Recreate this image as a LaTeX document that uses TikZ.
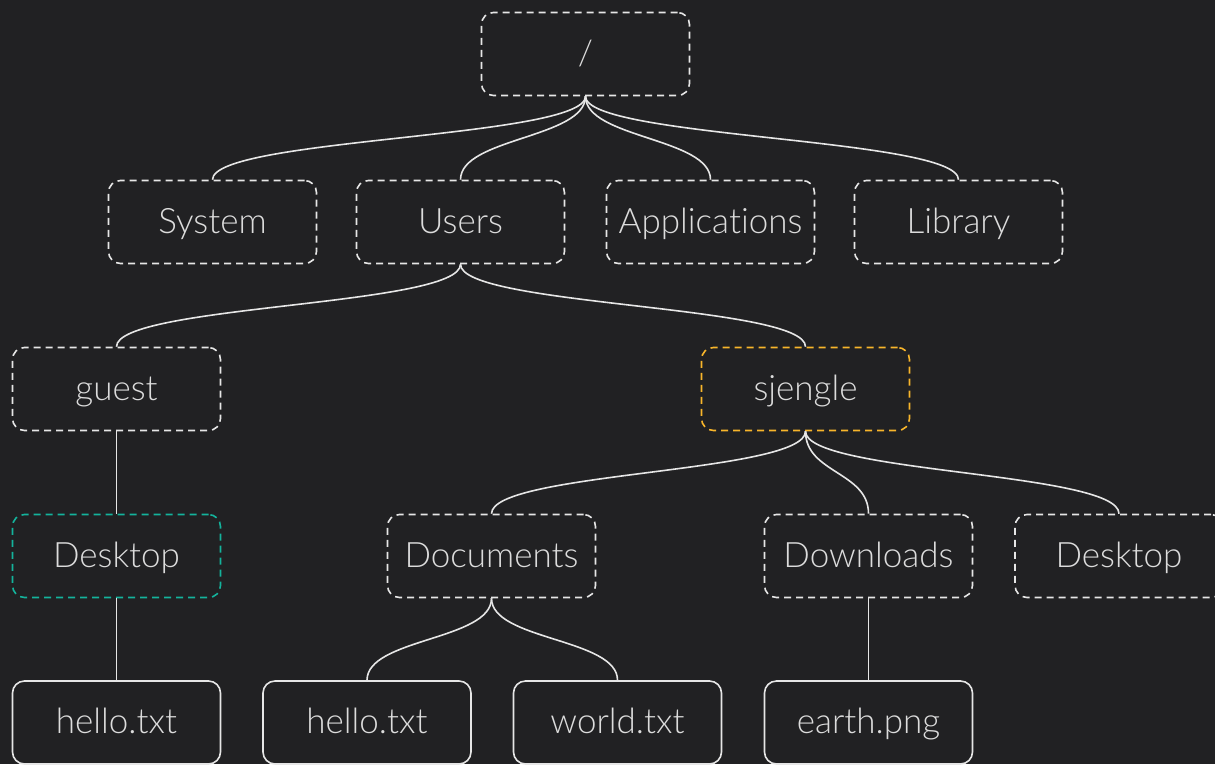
\documentclass[tikz,border=0pt]{standalone}
\usepackage{fontspec}
\setmainfont{Lato}[UprightFont=* Light, Ligatures={NoCommon}]
\definecolor{bg}{HTML}{212123}
\definecolor{fg}{HTML}{DCDCDC}
\definecolor{ln}{HTML}{E6E6E6}
\definecolor{orng}{HTML}{F8B52B}
\definecolor{teal}{HTML}{14B39C}
\tikzset{
  box/.style={draw=ln, line width=1.6pt, rounded corners=12pt, minimum width=208pt, minimum height=83pt,
    text=fg, font=\fontsize{35}{42}\selectfont, inner sep=0pt, text height=22pt, text depth=0pt},
  dir/.style={box, dash pattern=on 7pt off 5pt},
  file/.style={box},
  link/.style={draw=ln, line width=1.6pt},
}
\begin{document}
\begin{tikzpicture}[x=1pt,y=-1pt]
\fill[bg] (0,0) rectangle (1215,764);
\useasboundingbox (0,0) rectangle (1215,764);
\clip (0,0) rectangle (1215,764);
\node[dir] (root) at (585.5,54) {/};
\node[dir] (system) at (212.5,222) {System};
\node[dir] (users) at (460.5,222) {Users};
\node[dir] (apps) at (710.5,222) {Applications};
\node[dir] (lib) at (958.5,222) {Library};
\node[dir] (guest) at (116.5,389) {guest};
\node[dir, draw=orng] (sjengle) at (805.5,389) {sjengle};
\node[dir, draw=teal] (gdesk) at (116.5,556) {Desktop};
\node[dir] (docs) at (491.5,556) {Documents};
\node[dir] (downs) at (868.5,556) {Downloads};
\node[dir] (sdesk) at (1119,556) {Desktop};
\node[file] (ghello) at (116.5,722.5) {hello.txt};
\node[file] (hello) at (367,722.5) {hello.txt};
\node[file] (world) at (617.5,722.5) {world.txt};
\node[file] (earth) at (868.5,722.5) {earth.png};
\foreach \a/\b in {root/system,root/users,root/apps,root/lib,users/guest,users/sjengle,sjengle/docs,sjengle/downs,sjengle/sdesk,docs/hello,docs/world}
  \draw[link] (\a.south) .. controls +(0,42) and +(0,-42) .. (\b.north);
\draw[link] (guest.south) -- (gdesk.north);
\draw[link] (gdesk.south) -- (ghello.north);
\draw[link] (downs.south) -- (earth.north);
\end{tikzpicture}
\end{document}
